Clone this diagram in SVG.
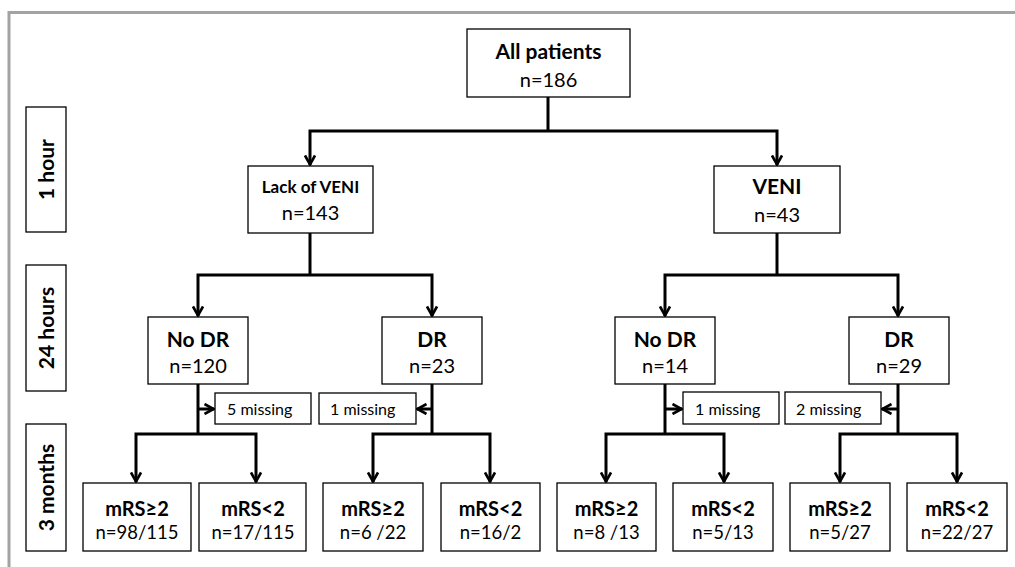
<svg xmlns="http://www.w3.org/2000/svg" width="1015" height="567" viewBox="0 0 1015 567">
<style>
.box{fill:#fff;stroke:#000;stroke-width:1.3}
.t{font-family:Lato,"Liberation Sans",sans-serif;fill:#000;text-anchor:middle}
.b{font-weight:bold;font-size:21px}
.n{font-size:20px}
.bs{font-weight:bold;font-size:20px}
.ns{font-size:18.5px}
.m{font-family:Lato,"Liberation Sans",sans-serif;font-size:16px;fill:#000}
.c{fill:none;stroke:#000;stroke-width:3}
.rl{font-family:Lato,"Liberation Sans",sans-serif;font-weight:bold;font-size:21px;text-anchor:middle;fill:#000}
</style>
<defs>
<marker id="ah" markerUnits="userSpaceOnUse" viewBox="0 0 12 12" refX="11" refY="6" markerWidth="12" markerHeight="12" orient="auto">
<path d="M1.5,1 L10.5,6 L1.5,11" fill="none" stroke="#000" stroke-width="2.6"/>
</marker>
</defs>
<rect width="1015" height="567" fill="#fff"/>
<path d="M9,567 V12.5 H1015" fill="none" stroke="#a3a3a3" stroke-width="3"/>

<g id="row-labels">
<g id="label-1h"><rect class="box" x="26" y="107" width="40" height="125"/><text class="rl" transform="translate(54,169.5) rotate(-90)">1 hour</text></g>
<g id="label-24h"><rect class="box" x="26" y="265" width="40" height="126"/><text class="rl" transform="translate(54,328) rotate(-90)">24 hours</text></g>
<g id="label-3m"><rect class="box" x="26" y="424" width="40" height="127"/><text class="rl" transform="translate(54,487.5) rotate(-90)">3 months</text></g>
</g>

<g id="connectors">
<path class="c" d="M548,97 V131"/>
<path class="c" d="M548,131 H310 V165" marker-end="url(#ah)"/>
<path class="c" d="M548,131 H777 V165" marker-end="url(#ah)"/>
<path class="c" d="M310,233 V275"/>
<path class="c" d="M310,275 H198 V316" marker-end="url(#ah)"/>
<path class="c" d="M310,275 H432 V316" marker-end="url(#ah)"/>
<path class="c" d="M777,233 V275"/>
<path class="c" d="M777,275 H665 V316" marker-end="url(#ah)"/>
<path class="c" d="M777,275 H898 V316" marker-end="url(#ah)"/>
<path class="c" d="M198,384 V434"/>
<path class="c" d="M198,434 H136 V482" marker-end="url(#ah)"/>
<path class="c" d="M198,434 H256 V482" marker-end="url(#ah)"/>
<path class="c" d="M198,409 H214" marker-end="url(#ah)"/>
<path class="c" d="M432,384 V434"/>
<path class="c" d="M432,434 H373 V482" marker-end="url(#ah)"/>
<path class="c" d="M432,434 H490 V482" marker-end="url(#ah)"/>
<path class="c" d="M432,409 H417" marker-end="url(#ah)"/>
<path class="c" d="M665,384 V434"/>
<path class="c" d="M665,434 H606 V482" marker-end="url(#ah)"/>
<path class="c" d="M665,434 H724 V482" marker-end="url(#ah)"/>
<path class="c" d="M665,409 H682" marker-end="url(#ah)"/>
<path class="c" d="M898,384 V434"/>
<path class="c" d="M898,434 H840 V482" marker-end="url(#ah)"/>
<path class="c" d="M898,434 H957 V482" marker-end="url(#ah)"/>
<path class="c" d="M898,409 H882" marker-end="url(#ah)"/>
</g>

<g id="all-patients"><rect class="box" x="467" y="29" width="163" height="68"/><text class="t b" x="548.5" y="59">All patients</text><text class="t n" x="548.5" y="87">n=186</text></g>
<g id="lack-veni"><rect class="box" x="248" y="166" width="125" height="67"/><text class="t" style="font-weight:bold;font-size:17px" x="310.5" y="193">Lack of VENI</text><text class="t n" x="310.5" y="220">n=143</text></g>
<g id="veni"><rect class="box" x="714" y="166" width="126" height="67"/><text class="t b" x="777" y="194">VENI</text><text class="t n" x="777" y="222">n=43</text></g>

<g id="nodr-left"><rect class="box" x="148" y="317" width="100" height="67"/><text class="t b" x="198" y="347">No DR</text><text class="t n" x="198" y="373">n=120</text></g>
<g id="dr-left"><rect class="box" x="382" y="317" width="100" height="67"/><text class="t b" x="432" y="347">DR</text><text class="t n" x="432" y="373">n=23</text></g>
<g id="nodr-right"><rect class="box" x="615" y="317" width="100" height="67"/><text class="t b" x="665" y="347">No DR</text><text class="t n" x="665" y="373">n=14</text></g>
<g id="dr-right"><rect class="box" x="849" y="317" width="100" height="67"/><text class="t b" x="899" y="347">DR</text><text class="t n" x="899" y="373">n=29</text></g>

<g id="missing-1"><rect class="box" x="215" y="393" width="96" height="31"/><text class="m" x="227" y="415">5 missing</text></g>
<g id="missing-2"><rect class="box" x="319" y="393" width="97" height="31"/><text class="m" x="330" y="415">1 missing</text></g>
<g id="missing-3"><rect class="box" x="683" y="392" width="96" height="32"/><text class="m" x="695" y="415">1 missing</text></g>
<g id="missing-4"><rect class="box" x="785" y="392" width="96" height="32"/><text class="m" x="796" y="415">2 missing</text></g>

<g id="out-1"><rect class="box" x="83" y="483" width="108" height="68"/><text class="t bs" x="137" y="516">mRS≥2</text><text class="t ns" x="137" y="539">n=98/115</text></g>
<g id="out-2"><rect class="box" x="199" y="483" width="107" height="68"/><text class="t bs" x="253" y="516">mRS&lt;2</text><text class="t ns" x="253" y="539">n=17/115</text></g>
<g id="out-3"><rect class="box" x="323" y="483" width="100" height="68"/><text class="t bs" x="373" y="516">mRS≥2</text><text class="t ns" x="373" y="539">n=6 /22</text></g>
<g id="out-4"><rect class="box" x="441" y="483" width="99" height="68"/><text class="t bs" x="490.5" y="516">mRS&lt;2</text><text class="t ns" x="490.5" y="539">n=16/2</text></g>
<g id="out-5"><rect class="box" x="557" y="483" width="99" height="68"/><text class="t bs" x="606.5" y="516">mRS≥2</text><text class="t ns" x="606.5" y="539">n=8 /13</text></g>
<g id="out-6"><rect class="box" x="673" y="483" width="100" height="68"/><text class="t bs" x="723" y="516">mRS&lt;2</text><text class="t ns" x="723" y="539">n=5/13</text></g>
<g id="out-7"><rect class="box" x="790" y="483" width="100" height="68"/><text class="t bs" x="840" y="516">mRS≥2</text><text class="t ns" x="840" y="539">n=5/27</text></g>
<g id="out-8"><rect class="box" x="907" y="483" width="100" height="68"/><text class="t bs" x="957" y="516">mRS&lt;2</text><text class="t ns" x="957" y="539">n=22/27</text></g>
</svg>
